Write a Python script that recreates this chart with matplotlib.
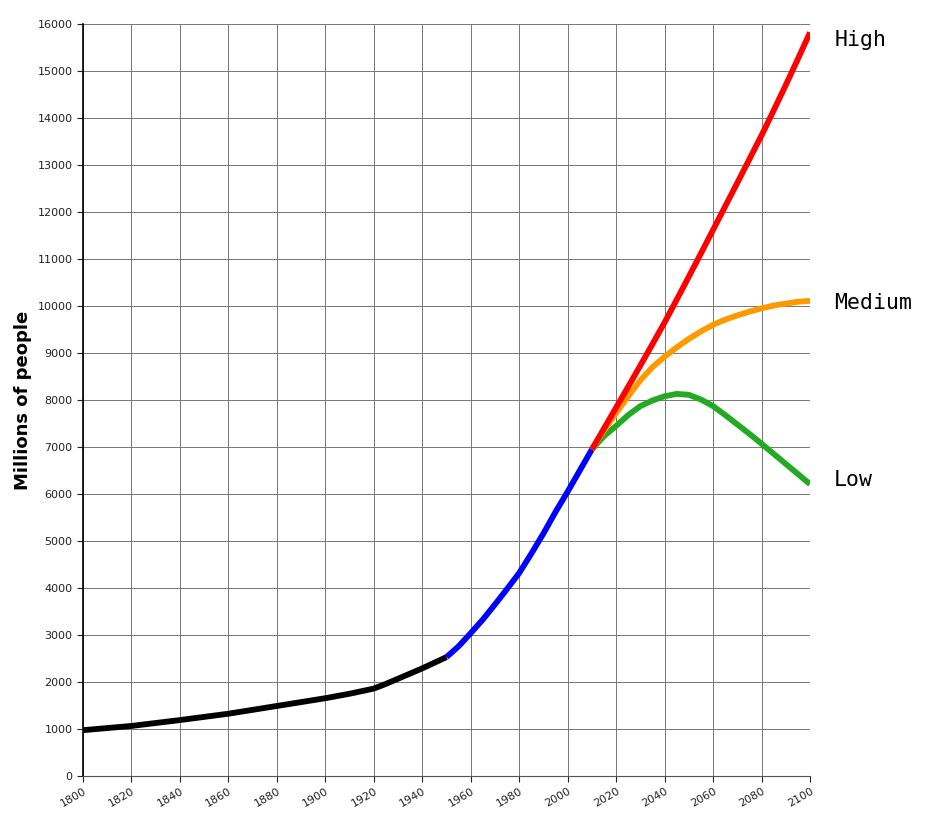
import matplotlib
matplotlib.use('Agg')
import matplotlib.pyplot as plt

# Historical estimates (millions)
yearsHist = [1800, 1820, 1840, 1860, 1880, 1900, 1910, 1920, 1925, 1930, 1940, 1950]
popHist = [975, 1065, 1190, 1325, 1490, 1655, 1750, 1860, 1960, 2070, 2290, 2530]

# Recent data
yearsRecent = [1950, 1955, 1960, 1965, 1970, 1975, 1980, 1985, 1990, 1995, 2000, 2005, 2010]
popRecent = [2530, 2760, 3040, 3330, 3650, 3980, 4320, 4730, 5160, 5620, 6050, 6500, 6950]

# Projections
yearsProj = [2010, 2015, 2020, 2025, 2030, 2035, 2040, 2045, 2050, 2055, 2060,
             2065, 2070, 2075, 2080, 2085, 2090, 2095, 2100]
popHigh = [6950, 7395, 7840, 8285, 8735, 9190, 9650, 10135, 10625, 11120, 11620,
           12120, 12620, 13125, 13630, 14160, 14700, 15255, 15820]
popMedium = [6950, 7350, 7720, 8080, 8420, 8700, 8920, 9120, 9300, 9460, 9600,
             9710, 9800, 9880, 9950, 10010, 10050, 10090, 10110]
popLow = [6950, 7230, 7450, 7680, 7870, 7990, 8080, 8130, 8110, 8010, 7870,
          7680, 7480, 7280, 7070, 6855, 6640, 6425, 6210]

endLabels = ['High', 'Medium', 'Low']

fig = plt.figure(figsize=(9.32, 8.18), dpi=100)
ax = fig.add_axes([83 / 932, 42 / 818, 727 / 932, 752 / 818])

lw = 4.2
ax.plot(yearsHist, popHist, color='black', lw=lw, solid_capstyle='butt', zorder=3)
ax.plot(yearsRecent, popRecent, color='#0000ff', lw=lw, solid_capstyle='butt', zorder=3)
ax.plot(yearsProj, popLow, color='#22aa22', lw=lw, solid_capstyle='butt', zorder=3)
ax.plot(yearsProj, popMedium, color='#ff9900', lw=lw, solid_capstyle='butt', zorder=3)
ax.plot(yearsProj, popHigh, color='#ff0000', lw=lw, solid_capstyle='butt', zorder=4)

ax.set_xlim(1800, 2100)
ax.set_ylim(0, 16000)
ax.set_xticks(range(1800, 2101, 20))
ax.set_yticks(range(0, 16001, 1000))
ax.tick_params(labelsize=8, length=4, colors='#222222')
plt.setp(ax.get_xticklabels(), rotation=30, ha='right', rotation_mode='anchor')
ax.grid(True, color='#777777', lw=0.7)
ax.set_axisbelow(True)
for side in ['top', 'right']:
    ax.spines[side].set_visible(False)
ax.spines['left'].set_linewidth(1.2)
ax.spines['bottom'].set_color('#555555')

ax.set_ylabel('Millions of people', fontsize=13, fontweight='bold', labelpad=4)

# end-of-line labels (offsets nudge the text off the line end)
offsets = {'High': -160, 'Medium': -40, 'Low': 90}
for lab, vals in zip(endLabels, [popHigh, popMedium, popLow]):
    ax.text(2110, vals[-1] + offsets[lab], lab, fontsize=15.5, family='DejaVu Sans Mono',
            va='center', ha='left', clip_on=False)

fig.savefig('out.png', dpi=100)
